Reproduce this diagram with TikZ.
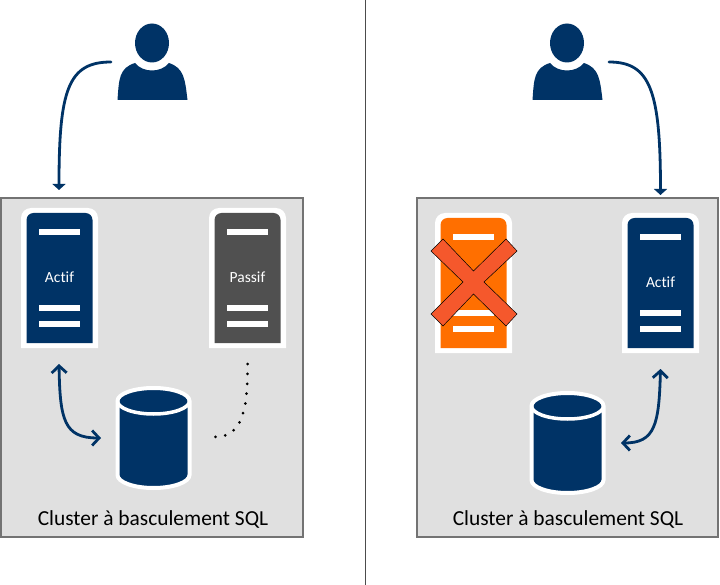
\documentclass[tikz,border=0pt]{standalone}
\usepackage{fontspec}
\setmainfont{Carlito}[Ligatures=NoCommon]
\usetikzlibrary{arrows.meta}
\definecolor{navy}{HTML}{003366}
\definecolor{darkgrey}{HTML}{505050}
\definecolor{failed}{HTML}{FF6F00}
\definecolor{crossred}{HTML}{F5582C}
\tikzset{
    panel/.style={draw=black!55, line width=1.3pt, fill=black!12, minimum width=#1, minimum height=339pt, inner sep=0pt},
    caption/.style={font=\fontsize{21.4}{25}\selectfont, text=black},
    tag/.style={font=\fontsize{15.5}{18}\selectfont, text=white},
    link/.style={draw=navy, line width=2.8pt, line cap=round, {Straight Barb[length=7pt,width=15pt]}-{Straight Barb[length=7pt,width=15pt]}},
    access/.style={draw=navy, line width=2.8pt, line cap=round, -{Triangle[length=6pt,width=13pt]}},
    pics/server/.style={code={
        \fill[white] (-38.5,70) [rounded corners=10pt] -- (-38.5,-70) -- (38.5,-70) [sharp corners] -- (38.5,70) -- cycle;
        \fill[#1] (-33,65) [rounded corners=7pt] -- (-33,-65) -- (33,-65) [sharp corners] -- (33,65) -- cycle;
        \foreach \y in {-46,30,46} \fill[white] (-20.5,\y-3) rectangle (20.5,\y+3);
    }},
    pics/barrel/.style={code={
        \draw[white, line width=4pt, fill=navy] (-36,-37) -- (-36,37) arc (180:0:36 and 13) -- (36,-37) arc (0:-180:36 and 13) -- cycle;
        \draw[white, line width=3.5pt] (-36,-37) arc (180:0:36 and 13);
    }},
    pics/user/.style={code={
        \fill[navy] (0,0) ellipse (17 and 19.5);
        \fill[navy] (-34.5,57) .. controls (-33,36) and (-33,25) .. (-17,20) .. controls (-9,30) and (9,30) .. (17,20) .. controls (32,25) and (33,36) .. (35.5,57) -- cycle;
    }}
}
\begin{document}
\begin{tikzpicture}[x=1pt,y=-1pt]
    \useasboundingbox (0,0) rectangle (720,585);

    % Separator
    \coordinate (sepTop) at (365,0);
    \coordinate (sepBot) at (365,585);
    \draw[black!70, line width=1pt] (sepTop) -- (sepBot);

    % Left cluster
    \node[panel=302pt] (clusterL) at (152,367.5) {};
    \node[caption] (captionL) at (153,519.5) {Cluster à basculement SQL};
    \pic at (59.5,278) {server=navy};
    \node[tag] (actifL) at (59.5,277) {Actif};
    \pic at (247.5,278) {server=darkgrey};
    \node[tag] (passif) at (247.5,277) {Passif};
    \pic at (153.5,438) {barrel};

    % Right cluster
    \node[panel=301pt] (clusterR) at (567.5,367.5) {};
    \node[caption] (captionR) at (568,519.5) {Cluster à basculement SQL};
    \pic at (473.5,283) {server=failed};
    \pic at (660.5,283) {server=navy};
    \node[tag] (actifR) at (660.5,282) {Actif};
    \pic at (567.5,443) {barrel};

    % Cross
    \fill[crossred, draw=black, line width=0.5pt] (431,251) -- (443,239) -- (473.5,271) -- (506,239) -- (517,251) -- (484,282) -- (517,314) -- (506,326) -- (473.5,294) -- (443,326) -- (431,314) -- (463,282) -- cycle;

    % Users
    \pic at (152,43) {user};
    \pic at (567,43) {user};

    % Access lines
    \coordinate (userL) at (111,62);
    \coordinate (entryL) at (59,190);
    \coordinate (userR) at (609,62);
    \coordinate (entryR) at (660.5,195);
    \draw[access] (userL) .. controls (68,62) and (59,90) .. (entryL);
    \draw[access] (userR) .. controls (650,62) and (660.5,90) .. (entryR);

    % Database links
    \coordinate (srvL) at (59,364);
    \coordinate (dbL) at (101,438);
    \coordinate (srvR) at (660.5,369);
    \coordinate (dbR) at (621,443);
    \coordinate (srvP) at (247.5,364);
    \coordinate (dbP) at (215,437);
    \draw[link] (srvL) .. controls (60,420) and (64,438) .. (dbL);
    \draw[link] (srvR) .. controls (659,425) and (655,443) .. (dbR);
    \draw[black, line width=3pt, line cap=round, dash pattern=on 0pt off 9.9pt] (srvP) .. controls (248,410) and (242,437) .. (dbP);
\end{tikzpicture}
\end{document}
